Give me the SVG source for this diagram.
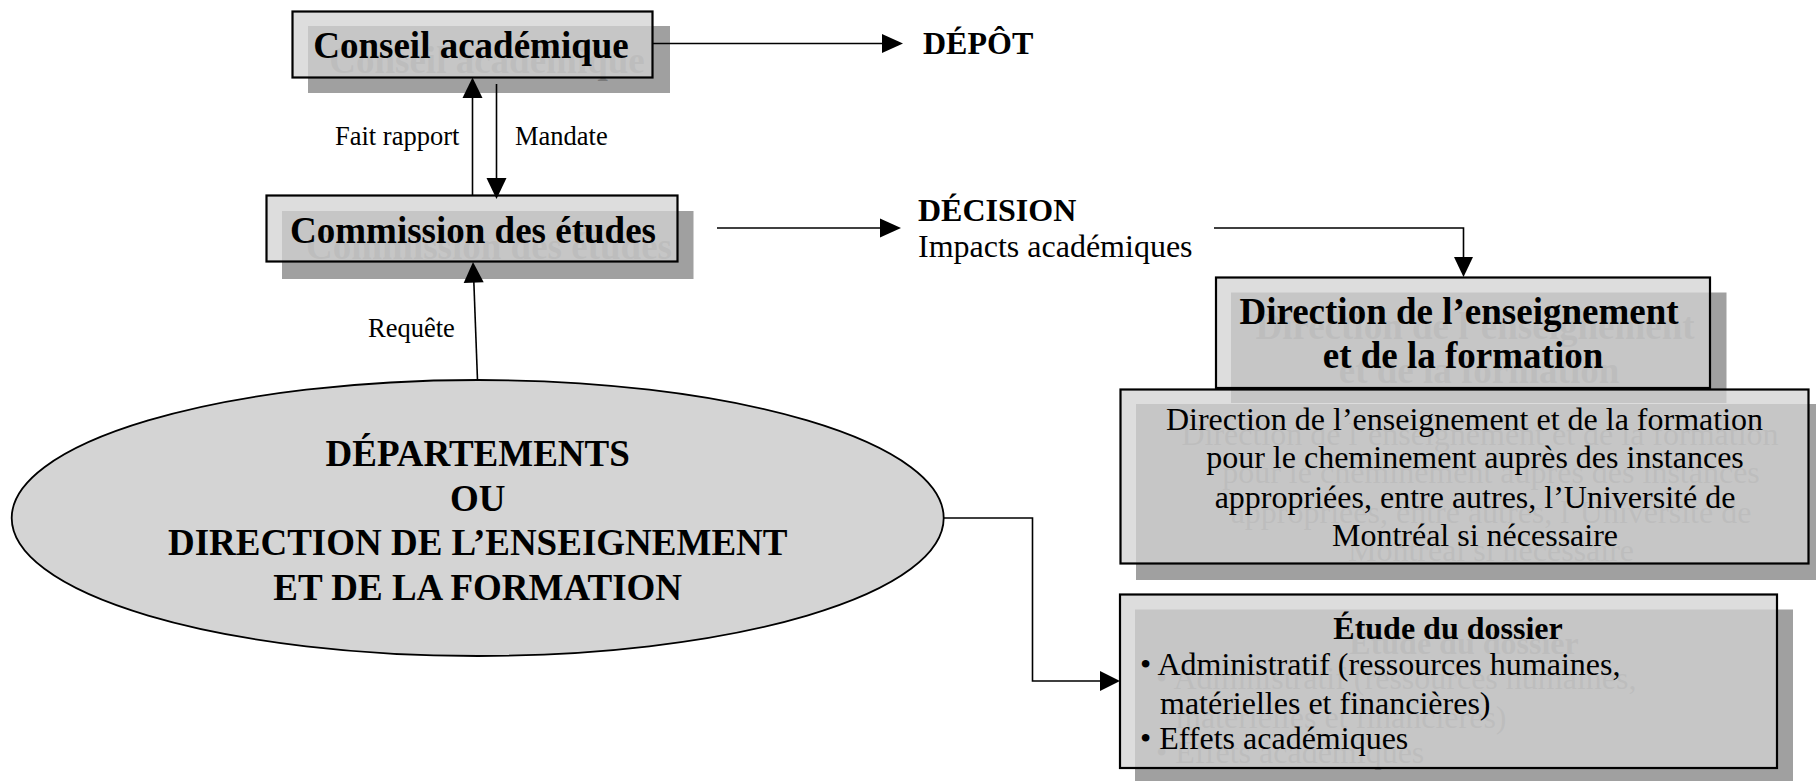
<svg xmlns="http://www.w3.org/2000/svg" width="1816" height="781" viewBox="0 0 1816 781">
<defs>
<style>
.bg{fill:#ffffff}
.sh{fill:#a0a0a0}
.box{fill:#d2d2d2;fill-opacity:0.76;stroke:#000;stroke-width:2.2}
.ell{fill:#d4d4d4;stroke:#000;stroke-width:1.8}
.tb{font-family:"Liberation Serif","Times New Roman",serif;font-weight:bold;fill:#000}
.tr{font-family:"Liberation Serif","Times New Roman",serif;fill:#000}
.gh{fill:#7a7a7a}
.ln{fill:none;stroke:#000;stroke-width:1.6}
.ah{fill:#000}
</style>
</defs>
<rect class="bg" x="0" y="0" width="1816" height="781"/>

<g id="conseil">
<rect class="sh" x="308" y="26" width="362" height="67"/>
<text class="tb gh" x="487" y="73" font-size="37" text-anchor="middle">Conseil académique</text>
<rect class="box" x="292.5" y="11.5" width="360" height="66"/>
<text class="tb" x="471" y="58" font-size="37" text-anchor="middle">Conseil académique</text>
</g>

<g id="commission">
<rect class="sh" x="282" y="211" width="411.5" height="68"/>
<text class="tb gh" x="489" y="259" font-size="37" text-anchor="middle">Commission des études</text>
<rect class="box" x="266.5" y="195.5" width="411" height="66"/>
<text class="tb" x="473" y="243" font-size="37" text-anchor="middle">Commission des études</text>
</g>

<g id="depot">
<text class="tb" x="923" y="54" font-size="32">DÉPÔT</text>
</g>

<g id="decision">
<text class="tb" x="918" y="221" font-size="32">DÉCISION</text>
<text class="tr" x="918" y="257" font-size="32">Impacts académiques</text>
</g>

<g id="direction">
<rect class="sh" x="1231" y="292.5" width="495.5" height="110.5"/>
<text class="tb gh" x="1475" y="339" font-size="37" text-anchor="middle">Direction de l’enseignement</text>
<text class="tb gh" x="1479" y="383" font-size="37" text-anchor="middle">et de la formation</text>
<rect class="box" x="1216" y="277.5" width="494" height="110.5"/>
<text class="tb" x="1459" y="324" font-size="37" text-anchor="middle">Direction de l’enseignement</text>
<text class="tb" x="1463" y="368" font-size="37" text-anchor="middle">et de la formation</text>
</g>

<g id="cheminement">
<rect class="sh" x="1136" y="404" width="690" height="176"/>
<text class="tr gh" x="1480" y="445" font-size="32" text-anchor="middle">Direction de l’enseignement et de la formation</text>
<text class="tr gh" x="1491" y="483" font-size="32" text-anchor="middle">pour le cheminement auprès des instances</text>
<text class="tr gh" x="1491" y="523" font-size="32" text-anchor="middle">appropriées, entre autres, l’Université de</text>
<text class="tr gh" x="1491" y="561" font-size="32" text-anchor="middle">Montréal si nécessaire</text>
<rect class="box" x="1120.5" y="389.5" width="688" height="174"/>
<text class="tr" x="1464.5" y="430" font-size="32" text-anchor="middle">Direction de l’enseignement et de la formation</text>
<text class="tr" x="1475" y="468" font-size="32" text-anchor="middle">pour le cheminement auprès des instances</text>
<text class="tr" x="1475" y="508" font-size="32" text-anchor="middle">appropriées, entre autres, l’Université de</text>
<text class="tr" x="1475" y="546" font-size="32" text-anchor="middle">Montréal si nécessaire</text>
</g>

<g id="etude">
<rect class="sh" x="1135" y="609.5" width="658" height="175"/>
<text class="tb gh" x="1464" y="654" font-size="32" text-anchor="middle">Étude du dossier</text>
<text class="tr gh" x="1156" y="689" font-size="32">• Administratif (ressources humaines,</text>
<text class="tr gh" x="1176" y="728" font-size="32">matérielles et financières)</text>
<text class="tr gh" x="1156" y="763" font-size="32">• Effets académiques</text>
<rect class="box" x="1120" y="594.5" width="657" height="173.5"/>
<text class="tb" x="1448" y="639" font-size="32" text-anchor="middle">Étude du dossier</text>
<text class="tr" x="1140" y="675" font-size="32">• Administratif (ressources humaines,</text>
<text class="tr" x="1160" y="714" font-size="32">matérielles et financières)</text>
<text class="tr" x="1140" y="749" font-size="32">• Effets académiques</text>
</g>

<g id="departements">
<ellipse class="ell" cx="477.7" cy="518" rx="466" ry="138"/>
<text class="tb" x="477.7" y="466" font-size="37" text-anchor="middle">DÉPARTEMENTS</text>
<text class="tb" x="477.7" y="511" font-size="37" text-anchor="middle">OU</text>
<text class="tb" x="477.7" y="555" font-size="37" text-anchor="middle">DIRECTION DE L’ENSEIGNEMENT</text>
<text class="tb" x="477.7" y="600" font-size="37" text-anchor="middle">ET DE LA FORMATION</text>
</g>

<g id="connectors">
<line class="ln" x1="652.5" y1="43.5" x2="884" y2="43.5"/>
<polygon class="ah" points="903,43.5 882,34 882,53"/>

<line class="ln" x1="472.5" y1="196" x2="472.5" y2="96"/>
<polygon class="ah" points="472.5,77.5 462.5,98 482.5,98"/>
<text class="tr" x="335" y="145" font-size="26.5">Fait rapport</text>

<line class="ln" x1="496.5" y1="84" x2="496.5" y2="180"/>
<polygon class="ah" points="496.5,199 486.5,178 506.5,178"/>
<text class="tr" x="515" y="145" font-size="26.5">Mandate</text>

<line class="ln" x1="477.5" y1="380" x2="473.8" y2="281"/>
<polygon class="ah" points="473,262 463.7,283 483.7,282.3"/>
<text class="tr" x="368" y="337" font-size="26.5">Requête</text>

<line class="ln" x1="717" y1="228" x2="882" y2="228"/>
<polygon class="ah" points="901,228 880,218.5 880,237.5"/>

<polyline class="ln" points="1214,228 1463.5,228 1463.5,259"/>
<polygon class="ah" points="1463.5,277 1454,257 1473,257"/>

<polyline class="ln" points="944,518 1032.5,518 1032.5,681 1102,681"/>
<polygon class="ah" points="1120,681 1100,671 1100,691"/>
</g>
</svg>
